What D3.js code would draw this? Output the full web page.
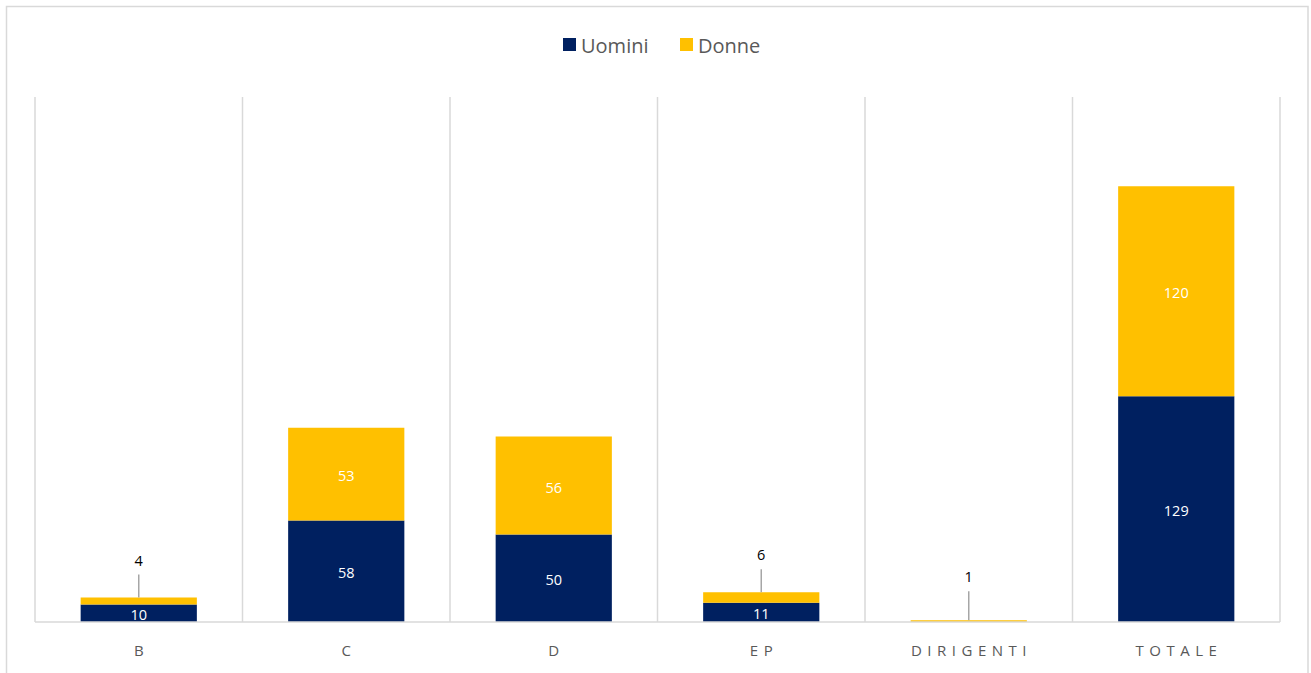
<!DOCTYPE html>
<html>
<head>
<meta charset="utf-8">
<script src="https://cdn.jsdelivr.net/npm/d3@7"></script>
<style>
  body { margin: 0; background: #fff; }
  svg { font-family: "Open Sans", "Liberation Sans", sans-serif; }
</style>
</head>
<body>
<div id="chart"></div>
<script>
// data
var categories = ["B", "C", "D", "EP", "DIRIGENTI", "TOTALE"];
var uomini = [10, 58, 50, 11, 0, 129];
var donne = [4, 53, 56, 6, 1, 120];
var seriesNames = ["Uomini", "Donne"];
var colors = ["#002060", "#FFC000"];

var W = 1311, H = 673;
var margin = {top: 97, right: 31, bottom: 51, left: 35},
    width = W - margin.left - margin.right,
    height = H - margin.top - margin.bottom;

var svg = d3.select("#chart").append("svg")
    .attr("width", W)
    .attr("height", H);

// outer border
svg.append("rect")
    .attr("x", 6.5).attr("y", 6.5)
    .attr("width", W - 6.5 - 3).attr("height", H + 10)
    .attr("fill", "none")
    .attr("stroke", "#d9d9d9")
    .attr("stroke-width", 1.5);

var g = svg.append("g")
    .attr("transform", "translate(" + margin.left + "," + margin.top + ")");

var x = d3.scaleBand().domain(categories).range([0, width]).paddingInner(0).paddingOuter(0);
var y = d3.scaleLinear().domain([0, 300]).range([height, 0]);

var barW = x.bandwidth() * 0.56;

// vertical separators
var edges = categories.map(function(c) { return x(c); }).concat([width]);
g.selectAll(".sep").data(edges).enter().append("line")
    .attr("x1", function(d) { return d; })
    .attr("x2", function(d) { return d; })
    .attr("y1", 0).attr("y2", height)
    .attr("stroke", "#d9d9d9")
    .attr("stroke-width", 1.5);

// stack
var table = categories.map(function(c, i) {
  return {cat: c, Uomini: uomini[i], Donne: donne[i]};
});
var stacked = d3.stack().keys(seriesNames)(table);

var layers = g.selectAll(".layer").data(stacked).enter().append("g")
    .attr("fill", function(d, i) { return colors[i]; });

layers.selectAll("rect").data(function(d) { return d; }).enter().append("rect")
    .attr("x", function(d) { return x(d.data.cat) + (x.bandwidth() - barW) / 2; })
    .attr("width", barW)
    .attr("y", function(d) { return y(d[1]); })
    .attr("height", function(d) { return y(d[0]) - y(d[1]); });

// baseline
g.append("line")
    .attr("x1", 0).attr("x2", width)
    .attr("y1", height).attr("y2", height)
    .attr("stroke", "#d9d9d9")
    .attr("stroke-width", 1.5);

// data labels
stacked.forEach(function(layer, si) {
  layer.forEach(function(d) {
    var v = d[1] - d[0];
    if (v === 0) return;
    var cx = x(d.data.cat) + x.bandwidth() / 2;
    var top = y(d[1]), bot = y(d[0]);
    if (bot - top >= 14) {
      g.append("text")
          .attr("x", cx).attr("y", (top + bot) / 2 + 2)
          .attr("dy", "0.35em")
          .attr("text-anchor", "middle")
          .attr("fill", "#fff")
          .attr("font-size", 14.5)
          .text(v);
    } else {
      var ly = top - (v < 2 ? 43 : 37);
      g.append("line")
          .attr("x1", cx).attr("x2", cx)
          .attr("y1", ly + 14).attr("y2", top)
          .attr("stroke", "#a6a6a6")
          .attr("stroke-width", 1.5);
      g.append("text")
          .attr("x", cx).attr("y", ly)
          .attr("dy", "0.35em")
          .attr("text-anchor", "middle")
          .attr("fill", "#000")
          .attr("font-size", 14.5)
          .text(v);
    }
  });
});

// category labels
var ls = 5.5;
g.selectAll(".cat").data(categories).enter().append("text")
    .attr("x", function(d) { return x(d) + x.bandwidth() / 2 + ls / 2; })
    .attr("y", height + 29)
    .attr("dy", "0.35em")
    .attr("text-anchor", "middle")
    .attr("fill", "#595959")
    .attr("font-size", 15)
    .attr("letter-spacing", ls + "px")
    .text(function(d) { return d; });

// legend
var legend = svg.append("g").attr("transform", "translate(563,45)");
var lx = [0, 117];
seriesNames.forEach(function(s, i) {
  legend.append("rect")
      .attr("x", lx[i]).attr("y", -7)
      .attr("width", 13).attr("height", 13)
      .attr("fill", colors[i]);
  legend.append("text")
      .attr("x", lx[i] + 18).attr("y", 1)
      .attr("dy", "0.35em")
      .attr("fill", "#595959")
      .attr("font-size", 20)
      .text(s);
});
</script>
</body>
</html>
